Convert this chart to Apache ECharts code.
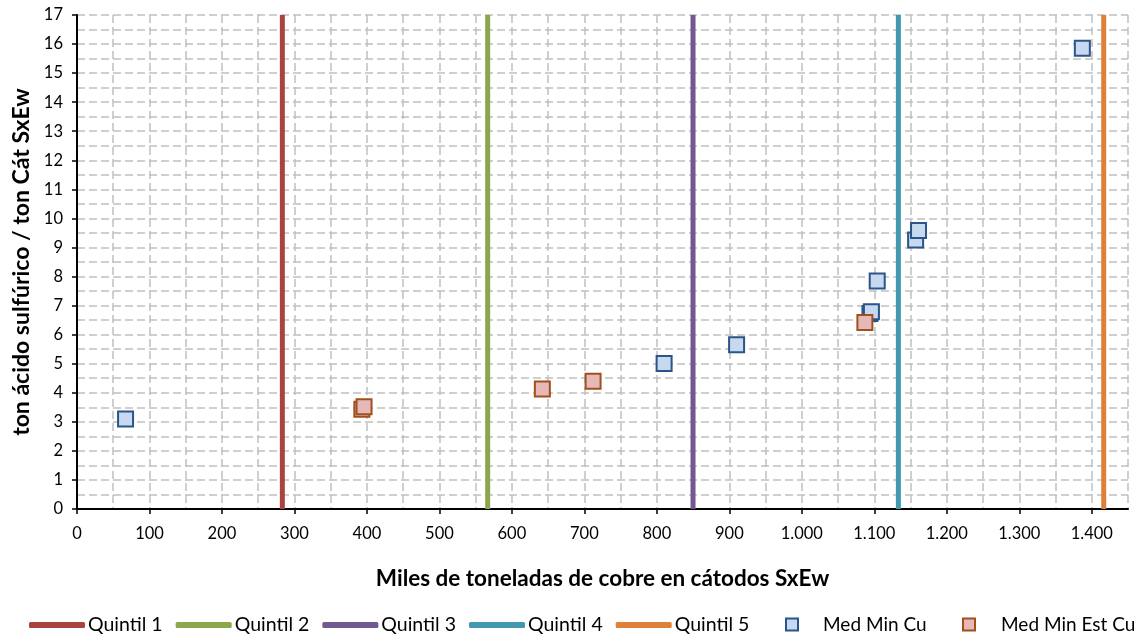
<!DOCTYPE html>
<html><head><meta charset="utf-8">
<script src="https://cdn.jsdelivr.net/npm/echarts@6/dist/echarts.min.js"></script>
<style>html,body{margin:0;padding:0;background:#fff}#c{width:1141px;height:637px}</style>
</head><body><div id="c"></div>
<script>
const quintilNames = ['Quintil 1', 'Quintil 2', 'Quintil 3', 'Quintil 4', 'Quintil 5'];
const quintilX = [283.3, 566.6, 849.9, 1133.2, 1416.5];
const quintilColors = ['#AA423F', '#8AA84B', '#715893', '#4198AF', '#DE8037'];
const medMinCuX = [67, 810, 910, 1094, 1096, 1104, 1157, 1161, 1387];
const medMinCuY = [3.10, 5.01, 5.65, 6.73, 6.79, 7.85, 9.26, 9.58, 15.86];
const medMinEstCuX = [393, 396, 642, 712, 1087];
const medMinEstCuY = [3.43, 3.52, 4.13, 4.40, 6.42];
const xTicks = [0, 100, 200, 300, 400, 500, 600, 700, 800, 900, 1000, 1100, 1200, 1300, 1400];
const yTicks = [0, 1, 2, 3, 4, 5, 6, 7, 8, 9, 10, 11, 12, 13, 14, 15, 16, 17];
const xTitle = 'Miles de toneladas de cobre en cátodos SxEw';
const yTitle = 'ton ácido sulfúrico / ton Cát SxEw';

const FONT = 'Lato';
const fmt = v => String(v).replace(/\B(?=(\d{3})+(?!\d))/g, '.');
const gridLine = { show: true, lineStyle: { color: '#C0C0C0', width: 1.5, type: [8, 4] } };
const xMin = 0, xMax = 1450, yMin = 0, yMax = 17;

const series = [];
quintilNames.forEach((n, i) => {
  series.push({
    name: n, type: 'line', color: quintilColors[i], symbol: 'none', silent: true, z: 2,
    lineStyle: { width: 5, color: quintilColors[i] },
    data: [[quintilX[i], yMin], [quintilX[i], yMax]]
  });
});
series.push({
  name: 'Med Min Cu', type: 'scatter', symbol: 'rect', symbolSize: 15, z: 3,
  itemStyle: { color: '#C6D9F1', borderColor: '#2C5487', borderWidth: 2, opacity: 1 },
  data: medMinCuX.map((x, i) => [x, medMinCuY[i]])
});
series.push({
  name: 'Med Min Est Cu', type: 'scatter', symbol: 'rect', symbolSize: 15, z: 4,
  itemStyle: { color: '#E6B9B8', borderColor: '#A0501A', borderWidth: 2, opacity: 1 },
  data: medMinEstCuX.map((x, i) => [x, medMinEstCuY[i]])
});

const legendText = { fontFamily: FONT, fontSize: 19.5, color: '#000' };
const scatterLegend = (name, left, pad) => ({
  left: left, top: 615, padding: 0, itemWidth: 12, itemHeight: 12,
  textStyle: Object.assign({}, legendText, { fontSize: 19, padding: [0, 0, 0, pad] }),
  data: [{ name: name, icon: 'rect' }]
});
const chart = echarts.init(document.getElementById('c'));
chart.setOption({
  animation: false,
  backgroundColor: '#fff',
  textStyle: { fontFamily: FONT },
  grid: { left: 77, right: 13, top: 15, bottom: 128, containLabel: false },
  legend: [
    {
      left: 29, top: 615, padding: 0, itemWidth: 56, itemHeight: 6, itemGap: 13,
      textStyle: Object.assign({ padding: [0, 0, 0, -2] }, legendText),
      data: quintilNames.map(n => ({ name: n, icon: 'roundRect' }))
    },
    scatterLegend('Med Min Cu', 785, 20),
    scatterLegend('Med Min Est Cu', 962, 21)
  ],
  xAxis: [
    {
      type: 'value', min: xMin, max: xMax, interval: 50, position: 'bottom',
      axisLine: { show: false }, axisTick: { show: false }, axisLabel: { show: false },
      splitLine: gridLine
    },
    {
      type: 'value', min: xMin, max: xMax, interval: 100, position: 'bottom', offset: 0,
      name: xTitle, nameLocation: 'middle', nameGap: 58,
      nameTextStyle: { fontFamily: FONT, fontSize: 22.5, fontWeight: 'bold', color: '#000' },
      axisLine: { show: true, onZero: false, lineStyle: { color: '#000', width: 2 } },
      axisTick: { show: true, length: 5, customValues: xTicks, lineStyle: { color: '#000', width: 1.5 } },
      axisLabel: { customValues: xTicks, margin: 16, fontFamily: FONT, fontSize: 16.5, color: '#000', formatter: v => fmt(v) },
      splitLine: { show: false }
    }
  ],
  yAxis: [
    {
      type: 'value', min: yMin, max: yMax, interval: 0.5, position: 'left',
      axisLine: { show: false }, axisTick: { show: false }, axisLabel: { show: false },
      splitLine: gridLine
    },
    {
      type: 'value', min: yMin, max: yMax, interval: 1, position: 'left', offset: 0,
      name: yTitle, nameLocation: 'middle', nameGap: 40,
      nameTextStyle: { fontFamily: FONT, fontSize: 23, fontWeight: 'bold', color: '#000' },
      axisLine: { show: true, onZero: false, lineStyle: { color: '#000', width: 2 } },
      axisTick: { show: true, length: 5, customValues: yTicks, lineStyle: { color: '#000', width: 1.5 } },
      axisLabel: { customValues: yTicks, margin: 14, fontFamily: FONT, fontSize: 16.5, color: '#000' },
      splitLine: { show: false }
    }
  ],
  series: series
});
</script>
</body></html>
